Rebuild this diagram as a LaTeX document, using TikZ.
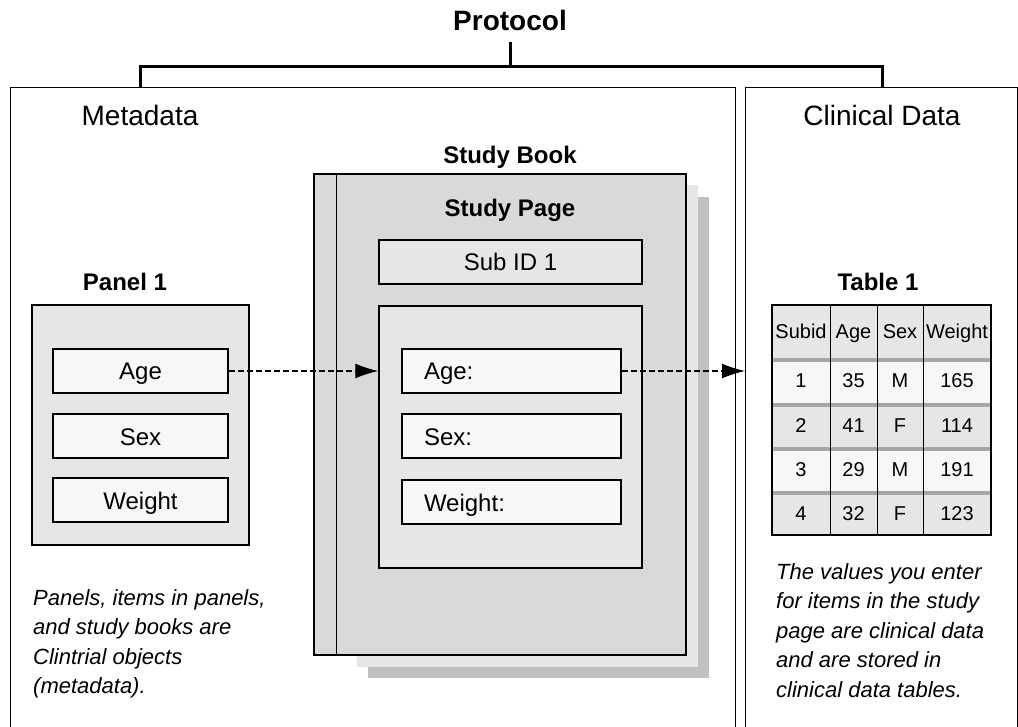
\documentclass[tikz,border=0pt]{standalone}
\usepackage{fontspec}
\setmainfont{Liberation Sans}
\usetikzlibrary{positioning}
\usetikzlibrary{arrows.meta}

\definecolor{boxgray}{HTML}{E6E6E6}
\definecolor{bookgray}{HTML}{D9D9D9}
\definecolor{itemwhite}{HTML}{F7F7F7}
\definecolor{shadegray}{HTML}{C0C0C0}
\definecolor{bargray}{HTML}{A6A6A6}

\begin{document}
\begin{tikzpicture}[x=1pt,y=-1pt,
    title/.style={font=\fontsize{28}{30}\selectfont},
    head/.style={font=\bfseries\fontsize{24}{26}\selectfont},
    item/.style={draw,line width=1.5pt,fill=itemwhite,minimum width=175pt,minimum height=44pt,inner sep=0pt,text height=20pt,text depth=2pt,font=\fontsize{24}{26}\selectfont},
    field/.style={item,text width=175pt,align=left,inner xsep=22pt},
    note/.style={font=\itshape\fontsize{22}{29.5}\selectfont,align=left,anchor=north west,inner sep=0pt},
    cell/.style={font=\fontsize{20}{22}\selectfont,inner sep=0pt,text height=16pt,text depth=1.6pt},
    link/.style={dash pattern=on 6pt off 3pt,line width=1.2pt,-{Latex[length=23pt,width=15pt]}}]
      \useasboundingbox (0,0) rectangle (1018,727);

      % the two frames
      \draw[line width=1pt] (10,727) -- (10,88) -- (735,88) -- (735,727);
      \draw[line width=1pt] (745,727) -- (745,88) -- (1017,88) -- (1017,727);
      \coordinate (meta) at (140,88);
      \coordinate (clin) at (882,88);
      \coordinate (cdl) at (745,88);
      \coordinate (stem) at (510,42);
      \coordinate (fork) at (510,67);

      \node[title,font=\bfseries\fontsize{28}{30}\selectfont] (proto) at (510,20) {Protocol};
      \draw[line width=3pt] (stem) -- (fork);
      \draw[line width=3pt] (meta) |- (fork) -| (clin);
      \node[title] (metalbl) at (140,115) {Metadata};
      \node[title] (clinlbl) at (882,115) {Clinical Data};

      % panel
      \node[head] (panellbl) at (125,282) {Panel 1};
      \node[draw,line width=1.5pt,fill=boxgray,minimum width=217pt,minimum height=240pt] (panel) at (140.5,425) {};
      \foreach \n/\t/\y in {age/Age/371, sex/Sex/436, wt/Weight/500}
        \node[item] (\n) at (140.5,\y) {\t};

      % study book with its pages behind
      \fill[shadegray] (368,197) rectangle (709,678);
      \fill[boxgray] (357,185) rectangle (698,667);
      \node[draw,line width=1.5pt,fill=bookgray,minimum width=372pt,minimum height=481pt,inner sep=0pt] (book) at (500,414.5) {};
      \draw[line width=1.5pt] ([xshift=23pt]book.north west) -- ([xshift=23pt]book.south west);
      \node[head] (booklbl) at (510,157) {Study Book};
      \node[head] (pagelbl) at (510,210) {Study Page};
      \node[item,minimum width=263pt,fill=boxgray] (subid) at (510.5,262) {Sub ID 1};
      \node[draw,line width=1.5pt,fill=boxgray,minimum width=263pt,minimum height=262pt] (form) at (510.5,437) {};
      \foreach \n/\t/\y in {fage/Age:/371, fsex/Sex:/436, fwt/Weight:/502}
        \node[field] (\n) at (511.5,\y) {\t};

      % data table
      \node[head] (tbllbl) at (878,282) {Table 1};
      \fill[boxgray] (772,305) rectangle (991,358);
      \foreach \ya/\yb/\c in {358/403/itemwhite, 403/447/boxgray, 447/491/itemwhite, 491/535/boxgray} {
        \fill[\c] (772,\ya) rectangle (991,\yb);
        \draw[bargray,line width=4pt] (772,\ya+2) -- (991,\ya+2);
      }
      \foreach \x in {830,877,923}
        \draw[line width=1pt] (\x,305) -- (\x,535);
      \node[draw,line width=1.5pt,minimum width=219pt,minimum height=230pt] (tbl) at (881.5,420) {};
      \foreach \x/\t [count=\i] in {801/Subid,853.5/Age,900/Sex,957/Weight}
        \node[cell] (h\i) at (\x,331.5) {\t};
      \foreach \y/\s/\a/\g/\w [count=\r] in {380.5/1/35/M/165, 425/2/41/F/114, 469/3/29/M/191, 513/4/32/F/123} {
        \node[cell] (s\r) at (801,\y) {\s};
        \node[cell] (a\r) at (853.5,\y) {\a};
        \node[cell] (g\r) at (900,\y) {\g};
        \node[cell] (w\r) at (957,\y) {\w};
      }

      % links
      \draw[link] (age.east) -- (age -| form.west);
      \draw[link] (fage.east) -- (fage -| cdl);

      \node[note] (metanote) at (33,589) {Panels, items in panels,\\and study books are\\Clintrial objects\\(metadata).};
      \node[note] (clinnote) at (776,563) {The values you enter\\for items in the study\\page are clinical data\\and are stored in\\clinical data tables.};
    \end{tikzpicture}
\end{document}
